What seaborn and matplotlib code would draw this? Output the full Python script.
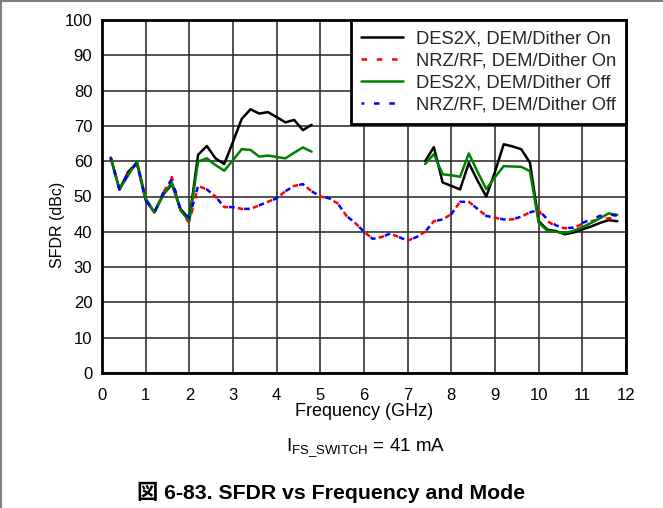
# SFDR vs frequency and mode
import matplotlib
matplotlib.use("Agg")
import matplotlib.pyplot as plt
from matplotlib.lines import Line2D
import seaborn as sns

# --- data ---
freq_left = [0.2, 0.4, 0.6, 0.8, 1.0, 1.2, 1.4, 1.6, 1.8, 2.0, 2.2, 2.4,
             2.6, 2.8, 3.0, 3.2, 3.4, 3.6, 3.8, 4.0, 4.2, 4.4, 4.6, 4.8]
des2x_on_left = [61, 52, 57, 59.5, 49, 45.5, 50.5, 53.5, 46.5, 43.5, 61.8, 64.3,
                 60.8, 59.2, 65.5, 72, 74.7, 73.5, 73.9, 72.5, 71, 71.7, 68.8, 70.3]
des2x_off_left = [61, 52, 56, 60, 49.5, 45.5, 50.5, 54, 46, 43, 59.9, 60.8,
                  58.9, 57.3, 60.3, 63.4, 63.2, 61.3, 61.6, 61.2, 60.8, 62.4, 63.9, 62.7]

freq_right = [7.4, 7.6, 7.8, 8.0, 8.2, 8.4, 8.6, 8.8, 9.0, 9.2, 9.4, 9.6,
              9.8, 10.0, 10.2, 10.4, 10.6, 10.8, 11.0, 11.2, 11.4, 11.6, 11.8]
des2x_on_right = [60, 64, 54, 53, 52, 59.5, 54.5, 50, 57, 64.8, 64.2, 63.4,
                  59.6, 43, 40.6, 40.2, 39.3, 39.8, 40.7, 41.5, 42.5, 43.3, 43]
des2x_off_right = [59.2, 62, 56.3, 56, 55.6, 62.2, 57, 52.1, 55.5, 58.6, 58.5, 58.4,
                   57.2, 42.6, 40.3, 40, 39.6, 40.3, 41.3, 42.5, 43.8, 45.2, 44.8]

freq_nrz = [0.2, 0.4, 0.6, 0.8, 1.0, 1.2, 1.4, 1.6, 1.8, 2.0,
            2.2, 2.4, 2.6, 2.8, 3.0, 3.2, 3.4, 3.6, 3.8, 4.0,
            4.2, 4.4, 4.6, 4.8, 5.0, 5.2, 5.4, 5.6, 5.8, 6.0,
            6.2, 6.4, 6.6, 6.8, 7.0, 7.2, 7.4, 7.6, 7.8, 8.0,
            8.2, 8.4, 8.6, 8.8, 9.0, 9.2, 9.4, 9.6, 9.8, 10.0,
            10.2, 10.4, 10.6, 10.8, 11.0, 11.2, 11.4, 11.6, 11.8]
nrz_on = [61, 52, 56.5, 59, 49, 45.5, 51, 55.5, 46, 42.5,
          53, 52, 50, 47, 47, 46.5, 46.5, 47.5, 48.5, 49.5,
          51.5, 53, 53.5, 51.5, 50, 49.5, 48, 44.5, 42.5, 40,
          38, 38.5, 39.5, 38.5, 37.5, 38.5, 40, 43, 43.5, 45,
          48.5, 48.5, 46.5, 44.5, 44, 43.5, 43.5, 44.3, 45.5, 46,
          43, 41.5, 41, 41, 42.3, 43, 43.5, 43.8, 44]
nrz_off = [61, 52, 56.5, 59.5, 49, 45.5, 51, 55, 46, 44,
           53, 52, 50, 47, 47, 46.5, 46.5, 47.5, 48.5, 49.5,
           51.5, 53, 53.5, 51.5, 50, 49.5, 48, 44.5, 42.5, 40,
           38, 38.5, 39.5, 38.5, 37.5, 38.5, 40, 43, 43.5, 45,
           48.5, 48.5, 46.5, 44.5, 44, 43.5, 43.5, 44.3, 45.5, 46.2,
           43.5, 41.8, 41, 41.2, 42.5, 43.5, 44.5, 45, 44.5]

x_ticks = list(range(0, 13))
y_ticks = list(range(0, 101, 10))

sns.set_theme(style="white")
plt.rcParams['font.family'] = ['Liberation Sans', 'Noto Sans CJK JP', 'DejaVu Sans']
plt.rcParams['mathtext.default'] = 'regular'
plt.rcParams['lines.scale_dashes'] = False

fig = plt.figure(figsize=(6.63, 5.08), dpi=100)
ax = fig.add_axes([102 / 663, 1 - 373 / 508, 524 / 663, 353 / 508])

lw = 1.8

sns.lineplot(x=freq_left, y=des2x_on_left, ax=ax, color='black', lw=lw,
             label='DES2X, DEM/Dither On', sort=False)
sns.lineplot(x=freq_right, y=des2x_on_right, ax=ax, color='black', lw=lw, sort=False)
sns.lineplot(x=freq_nrz, y=nrz_on, ax=ax, color='#ff0000', lw=lw, linestyle=(0, (4, 7)),
             label='NRZ/RF, DEM/Dither On', sort=False)
sns.lineplot(x=freq_left, y=des2x_off_left, ax=ax, color='#008000', lw=lw,
             label='DES2X, DEM/Dither Off', sort=False)
sns.lineplot(x=freq_right, y=des2x_off_right, ax=ax, color='#008000', lw=lw, sort=False)
sns.lineplot(x=freq_nrz, y=nrz_off, ax=ax, color='#0000ff', lw=lw, linestyle=(2, (4, 7)),
             label='NRZ/RF, DEM/Dither Off', sort=False)

ax.set_xlim(0, 12)
ax.set_ylim(0, 100)
ax.set_xticks(x_ticks)
ax.set_yticks(y_ticks)
ax.grid(True, color='#333333', lw=1.2)
ax.set_axisbelow(True)
for s in ax.spines.values():
    s.set_color('black')
    s.set_linewidth(2)
ax.tick_params(axis='both', length=0, labelsize=12, colors='black')
ax.tick_params(axis='x', pad=11)
ax.tick_params(axis='y', pad=7)
ax.set_xlabel('Frequency (GHz)', fontsize=13, color='black', labelpad=0)
ax.set_ylabel('SFDR (dBc)', fontsize=11.5, color='black')
ax.yaxis.set_label_coords(-0.07, 0.42)

leg = ax.legend(loc='upper right', borderaxespad=0, fontsize=13.2, frameon=True,
                fancybox=False, handlelength=2.3, labelspacing=0.28,
                borderpad=0.55, handletextpad=0.7)
leg.get_frame().set_edgecolor('black')
leg.get_frame().set_linewidth(2)
leg.get_frame().set_alpha(1)

fig.text(366 / 663, 1 - 448 / 508, 'I$_{FS\\_SWITCH}$ = 41 mA', ha='center', va='center',
         fontsize=13.5, color='black')
fig.text(331 / 663, 1 - 492 / 508, '図 6-83. SFDR vs Frequency and Mode', ha='center',
         va='center', fontsize=15.3, fontweight='bold', color='black')

# page border on the left and top
fig.add_artist(Line2D([0.001, 0.001], [0, 1], transform=fig.transFigure, color='#808080', lw=1.5))
fig.add_artist(Line2D([0, 1], [0.999, 0.999], transform=fig.transFigure, color='#808080', lw=1.5))

fig.savefig('out.png', dpi=100)
